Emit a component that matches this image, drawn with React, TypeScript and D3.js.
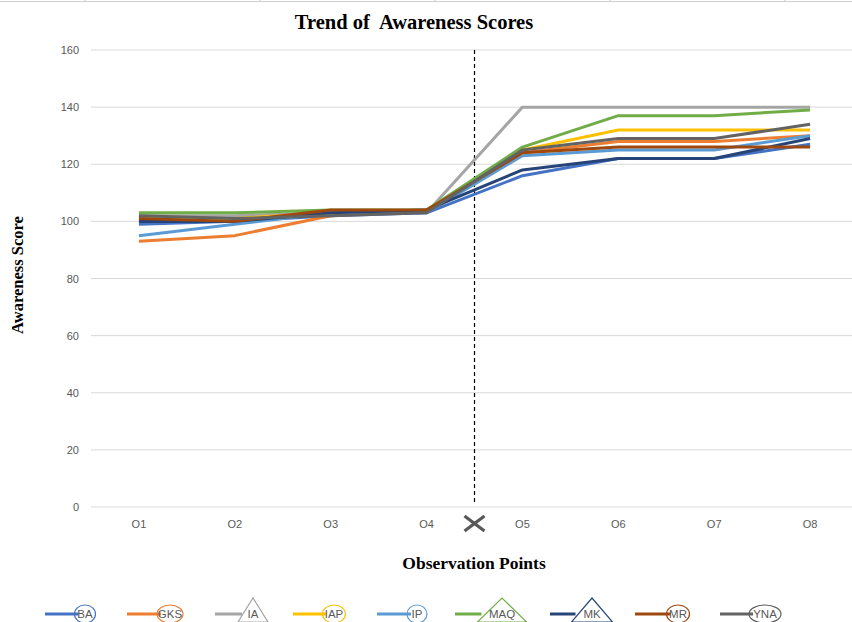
import React from "react";
import * as d3 from "d3";

const categories = ["O1", "O2", "O3", "O4", "O5", "O6", "O7", "O8"];
const yTicks = [0, 20, 40, 60, 80, 100, 120, 140, 160];
const seriesNames = ["BA", "GKS", "IA", "IAP", "IP", "MAQ", "MK", "MR", "YNA"];
const seriesColors = ["#4472C4", "#ED7D31", "#A5A5A5", "#FFC000", "#5B9BD5", "#70AD47", "#264478", "#9E480E", "#636363"];
const BA = [99, 100, 102, 103, 116, 122, 122, 127];
const GKS = [93, 95, 102, 104, 124, 128, 128, 130];
const IA = [102, 102, 103, 103, 140, 140, 140, 140];
const IAP = [101, 101, 103, 104, 125, 132, 132, 132];
const IP = [95, 99, 103, 103, 123, 125, 125, 130];
const MAQ = [103, 103, 104, 104, 126, 137, 137, 139];
const MK = [100, 100, 103, 104, 118, 122, 122, 129];
const MR = [101, 100, 104, 104, 124, 126, 126, 126];
const YNA = [102, 101, 102, 103, 125, 129, 129, 134];
const seriesValues = [BA, GKS, IA, IAP, IP, MAQ, MK, MR, YNA];
// legend marker shape for each series: ellipse or triangle
const legendShapes = ["ellipse", "ellipse", "triangle", "ellipse", "ellipse", "triangle", "triangle", "ellipse", "ellipse"];
const title = "Trend of  Awareness Scores";
const xTitle = "Observation Points";
const yTitle = "Awareness Score";
const interventionBetween = ["O4", "O5"];

// layout
const W = 852, H = 622;
const plotLeft = 91, plotRight = 858, plotTop = 50, plotBottom = 507;
const legendLineStarts = [45, 127, 215, 293, 377, 455, 550, 635, 720];
const legendMarkerCenters = [85, 170, 253, 334, 417, 502, 592, 678, 765];
const legendMarkerWidths = [21, 26, 30, 23, 20, 49, 41, 23, 32];
const legendY = 614;

export default function App() {
  const x = d3.scaleBand<string>().domain(categories).range([plotLeft, plotRight]);
  const cx = (c: string) => (x(c) as number) + x.bandwidth() / 2;
  const y = d3.scaleLinear().domain([0, 160]).range([plotBottom, plotTop]);
  const line = d3
    .line<number>()
    .x((_, i) => cx(categories[i]))
    .y((d) => y(d));
  const dashX = (cx(interventionBetween[0]) + cx(interventionBetween[1])) / 2;
  const sans = "'Liberation Sans', Arial, sans-serif";
  const serif = "'Liberation Serif', 'Times New Roman', serif";

  return (
    <svg width={W} height={H} style={{ position: "absolute", left: 0, top: 0, background: "#fff" }}>
      <rect x={0} y={0} width={W} height={H} fill="#fff" />
      {/* spreadsheet top border */}
      <line x1={0} x2={W} y1={1.5} y2={1.5} stroke="#d0d0d0" strokeWidth={1} />
      {[85, 260, 435, 610, 785].map((px) => (
        <line key={px} x1={px} x2={px} y1={0} y2={2} stroke="#c8c8c8" strokeWidth={1} />
      ))}
      <text
        x={414}
        y={29}
        textAnchor="middle"
        fontFamily={serif}
        fontWeight="bold"
        fontSize={20.5}
        fill="#000"
        style={{ whiteSpace: "pre" }}
      >
        {title}
      </text>
      {/* gridlines */}
      {yTicks.map((t) => (
        <g key={t}>
          <line x1={plotLeft} x2={W} y1={y(t)} y2={y(t)} stroke="#d9d9d9" strokeWidth={1} />
          <text x={79} y={y(t) + 4} textAnchor="end" fontFamily={sans} fontSize={11} fill="#595959">
            {t}
          </text>
        </g>
      ))}
      {/* x tick labels */}
      {categories.map((c) => (
        <text key={c} x={cx(c)} y={528} textAnchor="middle" fontFamily={sans} fontSize={11} fill="#595959">
          {c}
        </text>
      ))}
      {/* intervention dashed line */}
      <line x1={dashX} x2={dashX} y1={plotTop} y2={plotBottom - 2} stroke="#000" strokeWidth={1.2} strokeDasharray="4,3" />
      <g stroke="#595959" strokeWidth={3.2} strokeLinecap="butt">
        <line x1={dashX - 10} x2={dashX + 10} y1={516} y2={531} />
        <line x1={dashX - 10} x2={dashX + 10} y1={531} y2={516} />
      </g>
      {/* series */}
      {seriesValues.map((vals, i) => (
        <path key={seriesNames[i]} d={line(vals) || ""} fill="none" stroke={seriesColors[i]} strokeWidth={3} strokeLinejoin="round" />
      ))}
      {/* axis titles */}
      <text x={474} y={569} textAnchor="middle" fontFamily={serif} fontWeight="bold" fontSize={17.5} fill="#000">
        {xTitle}
      </text>
      <text
        transform={`translate(23,275) rotate(-90)`}
        textAnchor="middle"
        fontFamily={serif}
        fontWeight="bold"
        fontSize={16.5}
        fill="#000"
      >
        {yTitle}
      </text>
      {/* legend */}
      {seriesNames.map((name, i) => {
        const mc = legendMarkerCenters[i];
        const mw = legendMarkerWidths[i];
        const col = seriesColors[i];
        return (
          <g key={name}>
            <line x1={legendLineStarts[i]} x2={mc - mw / 2 + 4} y1={legendY} y2={legendY} stroke={col} strokeWidth={3} />
            {legendShapes[i] === "ellipse" ? (
              <ellipse cx={mc} cy={legendY} rx={mw / 2} ry={9} fill="none" stroke={col} strokeWidth={1.2} />
            ) : (
              <polygon
                points={`${mc - mw / 2},${legendY + 8} ${mc + mw / 2},${legendY + 8} ${mc},${legendY - 16}`}
                fill="none"
                stroke={col}
                strokeWidth={1.2}
              />
            )}
            <text x={mc} y={legendY + 4} textAnchor="middle" fontFamily={sans} fontSize={11.5} fill="#595959">
              {name}
            </text>
          </g>
        );
      })}
    </svg>
  );
}
